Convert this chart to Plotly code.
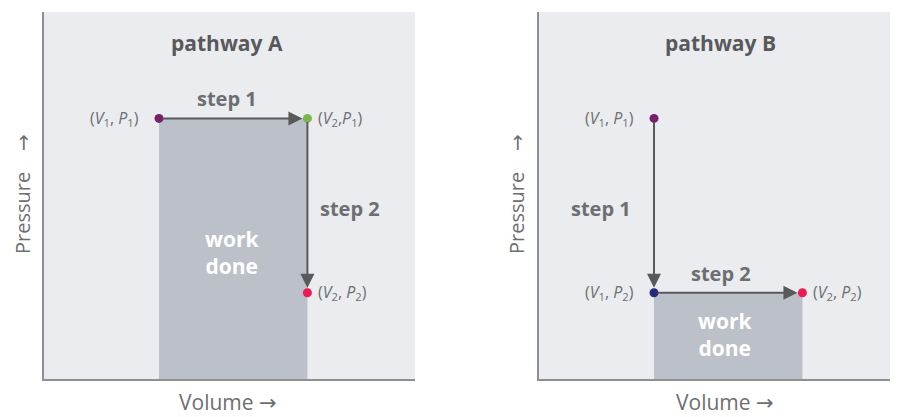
import plotly.graph_objects as go
from plotly.subplots import make_subplots

# state values (arbitrary units)
volumes = [3.1, 7.1]      # V1, V2
pressures = [7.1, 2.35]   # P1, P2

# pathway A: (V1,P1) -> (V2,P1) -> (V2,P2)
path_a_v = [volumes[0], volumes[1], volumes[1]]
path_a_p = [pressures[0], pressures[0], pressures[1]]
path_a_labels = ["(<i>V</i><sub>1</sub>, <i>P</i><sub>1</sub>)",
                 "(<i>V</i><sub>2</sub>,<i>P</i><sub>1</sub>)",
                 "(<i>V</i><sub>2</sub>, <i>P</i><sub>2</sub>)"]
path_a_colors = ["#7a1f6b", "#7bb648", "#ea1a52"]

# pathway B: (V1,P1) -> (V1,P2) -> (V2,P2)
path_b_v = [volumes[0], volumes[0], volumes[1]]
path_b_p = [pressures[0], pressures[1], pressures[1]]
path_b_labels = ["(<i>V</i><sub>1</sub>, <i>P</i><sub>1</sub>)",
                 "(<i>V</i><sub>1</sub>, <i>P</i><sub>2</sub>)",
                 "(<i>V</i><sub>2</sub>, <i>P</i><sub>2</sub>)"]
path_b_colors = ["#7a1f6b", "#262a7c", "#ea1a52"]

FONT = "Open Sans"
DARK = "#58595b"
MID = "#6d6e71"
ARROW = "#58595b"
WORK = "#bbc0c9"
ARR = '<span style="font-family:DejaVu Sans">\u2192</span>'

# page body has an 8px margin, so work in page pixels and shift
OFF, W, H = 8, 890, 409

def px(x, y):
    return (x - OFF) / W, 1 - (y - OFF) / H

fig = make_subplots(rows=1, cols=2)

def add_pathway(fig, col, vs, ps, labels, colors, label_side, work_p):
    xr = "x" if col == 1 else "x2"
    yr = "y" if col == 1 else "y2"
    # work done area under the constant-pressure step
    fig.add_shape(type="rect", xref=xr, yref=yr, x0=volumes[0], x1=volumes[1],
                  y0=0, y1=work_p, fillcolor=WORK, line_width=0, layer="below")
    # arrows for the two steps
    for i in range(2):
        fig.add_annotation(x=vs[i + 1], y=ps[i + 1], ax=vs[i], ay=ps[i],
                           xref=xr, yref=yr, axref=xr, ayref=yr, text="",
                           showarrow=True, arrowhead=2, arrowsize=1.4,
                           arrowwidth=2, arrowcolor=ARROW, standoff=5,
                           startstandoff=2)
    fig.add_trace(go.Scatter(x=vs, y=ps, mode="markers",
                             marker=dict(size=9, color=colors),
                             hoverinfo="skip", showlegend=False),
                  row=1, col=col)
    for v, p, lab, side in zip(vs, ps, labels, label_side):
        fig.add_annotation(x=v, y=p, xref=xr, yref=yr, text=lab, showarrow=False,
                           xanchor="left" if side == "r" else "right",
                           xshift=9 if side == "r" else -18,
                           font=dict(family=FONT, size=16, color=MID))

add_pathway(fig, 1, path_a_v, path_a_p, path_a_labels, path_a_colors,
            ["l", "r", "r"], pressures[0])
add_pathway(fig, 2, path_b_v, path_b_p, path_b_labels, path_b_colors,
            ["l", "l", "r"], pressures[1])

step_font = dict(family=FONT, size=20, color=MID)
work_font = dict(family=FONT, size=21, color="white")
title_font = dict(family=FONT, size=21, color=DARK)
axis_font = dict(family=FONT, size=21, color=MID)

texts = [
    # text, page x, page y, font, xanchor
    ("<b>pathway A</b>", 227, 43, title_font, "center"),
    ("<b>step 1</b>", 227, 99, step_font, "center"),
    ("<b>step 2</b>", 318, 208, step_font, "left"),
    ("<b>work<br>done</b>", 232, 252, work_font, "center"),
    ("<b>pathway B</b>", 720, 43, title_font, "center"),
    ("<b>step 1</b>", 633, 208, step_font, "right"),
    ("<b>step 2</b>", 721, 273, step_font, "center"),
    ("<b>work<br>done</b>", 725, 334, work_font, "center"),
    ("Volume " + ARR, 228, 402, axis_font, "center"),
    ("Volume " + ARR, 725, 402, axis_font, "center"),
]
for txt, x, y, f, xa in texts:
    xp, yp = px(x, y)
    fig.add_annotation(x=xp, y=yp, xref="paper", yref="paper", text=txt,
                       showarrow=False, xanchor=xa, yanchor="middle", font=f)

for x in [22, 516]:
    xp, yp = px(x, 194)
    fig.add_annotation(x=xp, y=yp, xref="paper", yref="paper",
                       text="Pressure\u00a0\u00a0\u00a0 " + ARR, textangle=-90,
                       xanchor="center", yanchor="middle",
                       showarrow=False, font=dict(family=FONT, size=20, color=MID))

ax_style = dict(showgrid=False, zeroline=False, showticklabels=False, ticks="",
                showline=True, linecolor="#8d8f92", linewidth=1.5, fixedrange=True)
fig.update_xaxes(**ax_style)
fig.update_yaxes(**ax_style)
fig.update_xaxes(domain=[(44 - OFF) / W, (415 - OFF) / W], range=[0, 10], row=1, col=1)
fig.update_xaxes(domain=[(539 - OFF) / W, 1.0], range=[0, 359 / 37.1], row=1, col=2)
fig.update_yaxes(domain=[1 - (379 - OFF) / H, 1 - (12 - OFF) / H], range=[0, 10])

fig.update_layout(width=W, height=H, margin=dict(l=0, r=0, t=0, b=0),
                  paper_bgcolor="white", plot_bgcolor="#eaecef",
                  showlegend=False)

fig.write_html("out.html")
